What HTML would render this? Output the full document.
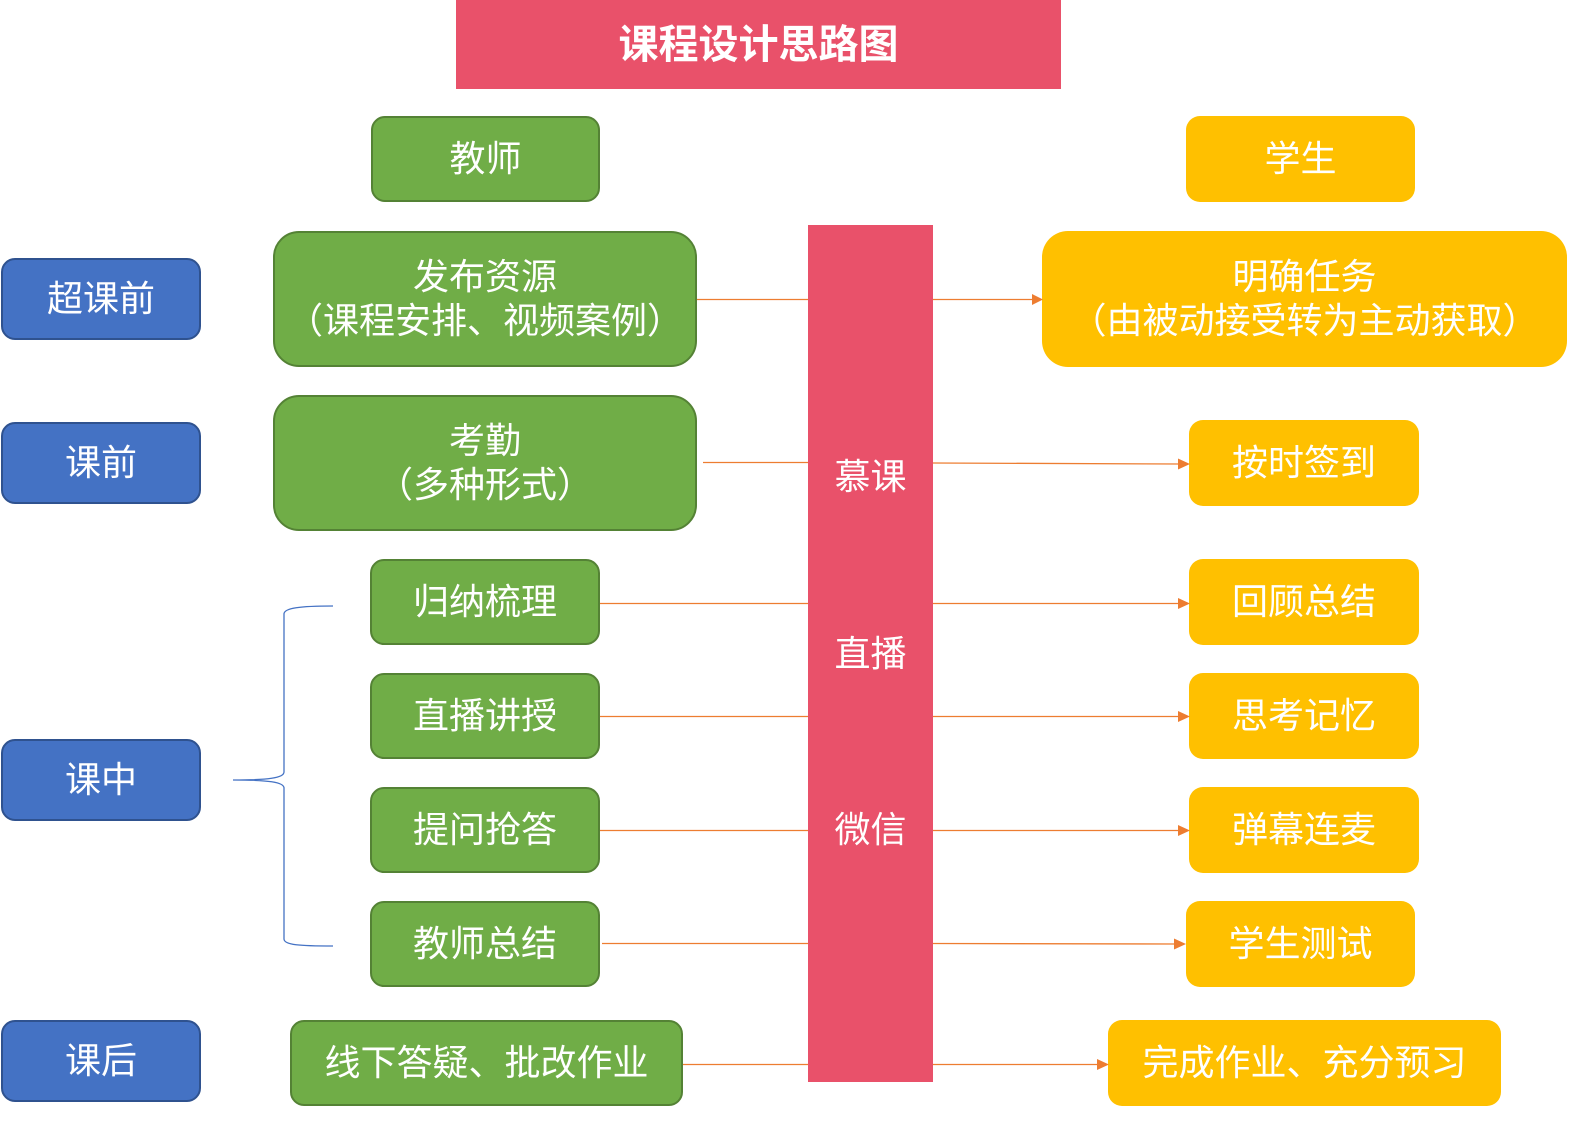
<!DOCTYPE html>
<html><head><meta charset="utf-8"><style>
html,body{margin:0;padding:0;background:#fff;}
body{width:1592px;height:1126px;position:relative;overflow:hidden;font-family:"Liberation Sans","Noto Sans CJK SC",sans-serif;}
.b{position:absolute;box-sizing:border-box;display:flex;align-items:center;justify-content:center;text-align:center;color:#fff;font-size:36px;line-height:44px;white-space:nowrap;}
.g{background:#70AD47;border:2px solid #548235;border-radius:14px;}
.gl{background:#70AD47;border:2px solid #548235;border-radius:26px;}
.bl{background:#4472C4;border:2px solid #2F528F;border-radius:14px;}
.y{background:#FFC000;border-radius:14px;}
.yl{background:#FFC000;border-radius:26px;}
svg{position:absolute;left:0;top:0;}
</style></head><body>
<div class="b" style="left:456px;top:0;width:605px;height:89px;background:#E9516A;font-weight:bold;font-size:40px;">课程设计思路图</div>

<div class="b g" style="left:371px;top:116px;width:229px;height:86px;">教师</div>
<div class="b y" style="left:1186px;top:116px;width:229px;height:86px;">学生</div>

<div class="b bl" style="left:1px;top:258px;width:200px;height:82px;">超课前</div>
<div class="b bl" style="left:1px;top:422px;width:200px;height:82px;">课前</div>
<div class="b bl" style="left:1px;top:739px;width:200px;height:82px;">课中</div>
<div class="b bl" style="left:1px;top:1020px;width:200px;height:82px;">课后</div>

<div class="b gl" style="left:273px;top:231px;width:424px;height:136px;">发布资源<br>（课程安排、视频案例）</div>
<div class="b gl" style="left:273px;top:395px;width:424px;height:136px;">考勤<br>（多种形式）</div>
<div class="b g" style="left:370px;top:559px;width:230px;height:86px;">归纳梳理</div>
<div class="b g" style="left:370px;top:673px;width:230px;height:86px;">直播讲授</div>
<div class="b g" style="left:370px;top:787px;width:230px;height:86px;">提问抢答</div>
<div class="b g" style="left:370px;top:901px;width:230px;height:86px;">教师总结</div>
<div class="b g" style="left:290px;top:1020px;width:393px;height:86px;">线下答疑、批改作业</div>

<div style="position:absolute;left:808px;top:225px;width:125px;height:857px;background:#E9516A;"></div>
<div class="b" style="left:808px;top:455px;width:125px;height:44px;">慕课</div>
<div class="b" style="left:808px;top:632px;width:125px;height:44px;">直播</div>
<div class="b" style="left:808px;top:808px;width:125px;height:44px;">微信</div>

<div class="b yl" style="left:1042px;top:231px;width:525px;height:136px;">明确任务<br>（由被动接受转为主动获取）</div>
<div class="b y" style="left:1189px;top:420px;width:230px;height:86px;">按时签到</div>
<div class="b y" style="left:1189px;top:559px;width:230px;height:86px;">回顾总结</div>
<div class="b y" style="left:1189px;top:673px;width:230px;height:86px;">思考记忆</div>
<div class="b y" style="left:1189px;top:787px;width:230px;height:86px;">弹幕连麦</div>
<div class="b y" style="left:1186px;top:901px;width:229px;height:86px;">学生测试</div>
<div class="b y" style="left:1108px;top:1020px;width:393px;height:86px;">完成作业、充分预习</div>

<svg width="1592" height="1126" viewBox="0 0 1592 1126">
<g stroke="#ED7D31" stroke-width="1.3" fill="none">
<line x1="697" y1="299.5" x2="808" y2="299.5"/>
<line x1="933" y1="299.5" x2="1033" y2="299.5"/>
<line x1="703" y1="462.5" x2="808" y2="462.5"/>
<line x1="933" y1="463" x2="1180" y2="464"/>
<line x1="600" y1="603.5" x2="808" y2="603.5"/>
<line x1="933" y1="603.5" x2="1180" y2="603.5"/>
<line x1="600" y1="716.5" x2="808" y2="716.5"/>
<line x1="933" y1="716.5" x2="1180" y2="716.5"/>
<line x1="600" y1="830.5" x2="808" y2="830.5"/>
<line x1="933" y1="830.5" x2="1180" y2="830.5"/>
<line x1="602" y1="943.5" x2="808" y2="943.5"/>
<line x1="933" y1="943.5" x2="1176" y2="944"/>
<line x1="683" y1="1064.5" x2="808" y2="1064.5"/>
<line x1="933" y1="1064.5" x2="1099" y2="1064.5"/>
</g>
<g fill="#ED7D31">
<polygon points="1032,294 1043,299.5 1032,305"/>
<polygon points="1178,458.5 1190,464 1178,469.5"/>
<polygon points="1178,598 1190,603.5 1178,609"/>
<polygon points="1178,711 1190,716.5 1178,722"/>
<polygon points="1178,825 1190,830.5 1178,836"/>
<polygon points="1174,938.5 1186,944 1174,949.5"/>
<polygon points="1097,1059 1109,1064.5 1097,1070"/>
</g>
<path d="M333,606 C300,606 284,608 284,614 L284,772 C284,778 268,780 233,780 C268,780 284,782 284,788 L284,939 C284,945 300,946 333,946" stroke="#4472C4" stroke-width="1.3" fill="none"/>
</svg>
</body></html>
